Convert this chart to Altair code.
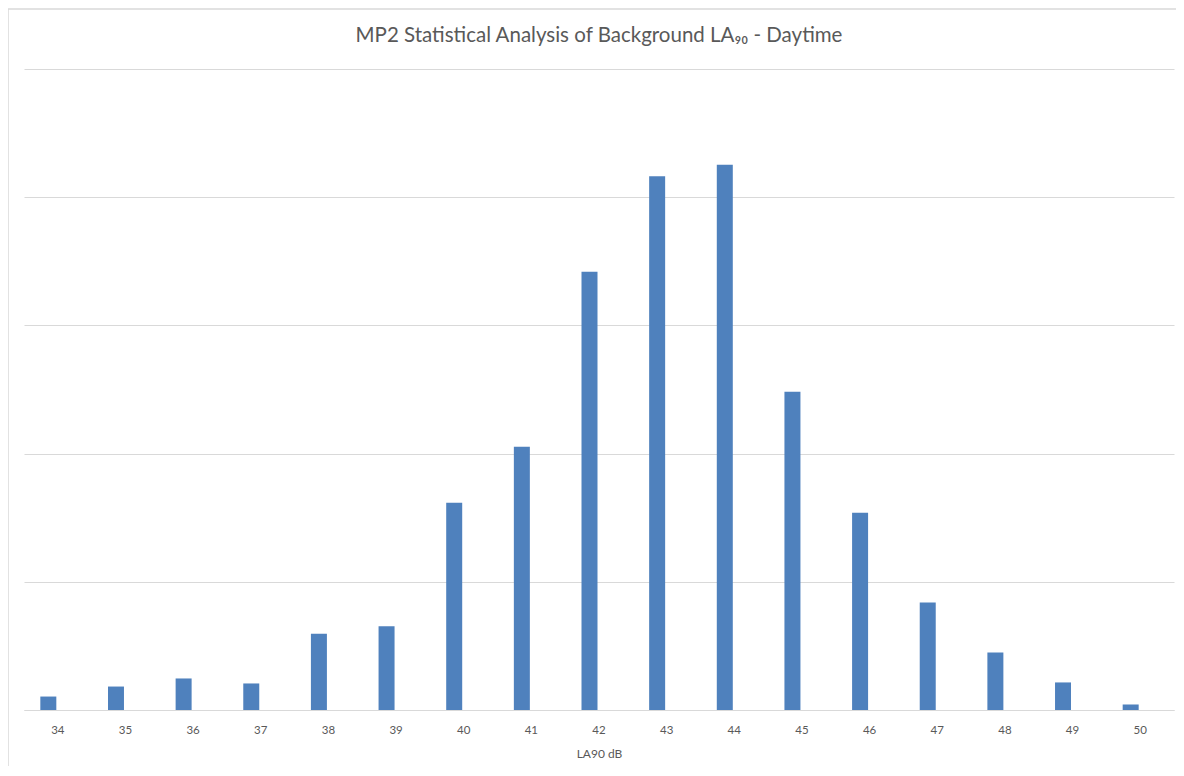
import altair as alt
import pandas as pd

levels = ["34", "35", "36", "37", "38", "39", "40", "41", "42", "43", "44", "45", "46", "47", "48", "49", "50"]
counts = [1.05, 1.83, 2.46, 2.07, 5.94, 6.54, 16.16, 20.53, 34.18, 41.64, 42.53, 24.82, 15.38, 8.39, 4.49, 2.15, 0.43]
title_text = ["MP2 Statistical Analysis of Background LA₉₀ - Daytime"]

df = pd.DataFrame({"level": levels, "count": counts})

FONT = "Lato"
GREY = "#595959"
one = pd.DataFrame({"a": [0]})

frame_top = alt.Chart(one).mark_rule(color="#d9d9d9", strokeWidth=1.5, clip=False).encode(
    x=alt.value(-16), x2=alt.value(1170), y=alt.value(-60)
)
frame_left = alt.Chart(one).mark_rule(color="#d9d9d9", strokeWidth=1.5, clip=False).encode(
    x=alt.value(-16), y=alt.value(-60), y2=alt.value(720)
)

title = alt.Chart(pd.DataFrame({"t": title_text})).mark_text(
    font=FONT, fontSize=20.5, color=GREY, align="center", baseline="middle", clip=False
).encode(
    text="t:N", x=alt.value(575), y=alt.value(-33)
)

bars = alt.Chart(df).mark_bar(color="#4f81bd", width=16, xOffset=-9.5).encode(
    x=alt.X(
        "level:N",
        sort=levels,
        scale=alt.Scale(paddingInner=0, paddingOuter=0),
        axis=alt.Axis(
            title="LA90 dB",
            labelAngle=0,
            ticks=False,
            domainColor="#d9d9d9",
            domainWidth=1,
            labelColor=GREY,
            labelFont=FONT,
            labelFontSize=11.5,
            labelPadding=14,
            titleColor=GREY,
            titleFont=FONT,
            titleFontSize=12,
            titleFontWeight="normal",
            titlePadding=13,
        ),
    ),
    y=alt.Y(
        "count:Q",
        scale=alt.Scale(domain=[0, 50], nice=False),
        axis=alt.Axis(
            title=None,
            labels=False,
            ticks=False,
            domain=False,
            grid=True,
            gridColor="#d9d9d9",
            gridWidth=1,
            values=[0, 10, 20, 30, 40, 50],
        ),
    ),
)

chart = alt.layer(frame_top, frame_left, bars, title).properties(
    width=1150,
    height=641,
    autosize=alt.AutoSizeParams(type="none"),
    padding={"left": 16, "top": 61, "right": 2, "bottom": 56},
).configure(background="white", view=alt.ViewConfig(stroke=None))

chart.save("out.html", embed_options={"renderer": "svg", "actions": False})
